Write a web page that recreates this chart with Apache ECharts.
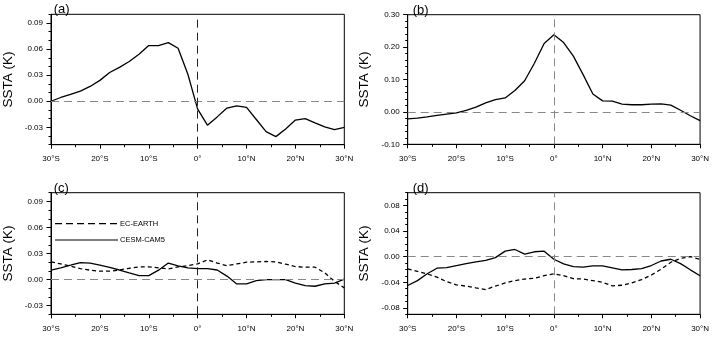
<!DOCTYPE html>
<html><head><meta charset="utf-8">
<script src="https://cdn.jsdelivr.net/npm/echarts@6/dist/echarts.min.js"></script>
<style>html,body{margin:0;padding:0;background:#fff}#c{width:712px;height:341px}</style>
</head><body><div id="c"></div>
<script>
const lat = [-30,-28,-26,-24,-22,-20,-18,-16,-14,-12,-10,-8,-6,-4,-2,0,2,4,6,8,10,12,14,16,18,20,22,24,26,28,30];
const panelA = [0.000,0.0043,0.0078,0.0116,0.017,0.024,0.033,0.039,0.0457,0.054,0.064,0.064,0.0674,0.061,0.031,-0.009,-0.0275,-0.018,-0.0078,-0.0054,-0.007,-0.021,-0.035,-0.0407,-0.032,-0.0217,-0.020,-0.0248,-0.0295,-0.0326,-0.030];
const panelB = [-0.0216,-0.019,-0.0155,-0.011,-0.007,-0.003,0.005,0.015,0.028,0.038,0.043,0.066,0.096,0.150,0.211,0.238,0.214,0.172,0.115,0.055,0.034,0.033,0.024,0.022,0.022,0.024,0.025,0.021,0.005,-0.012,-0.027];
const cEC = [0.0204,0.018,0.0154,0.0127,0.0108,0.0096,0.0096,0.011,0.013,0.0146,0.0146,0.0135,0.0123,0.0146,0.016,0.018,0.0227,0.019,0.016,0.018,0.020,0.0204,0.0208,0.0204,0.0177,0.015,0.0142,0.0142,0.0077,-0.002,-0.0096];
const cCESM = [0.0108,0.0135,0.0165,0.0196,0.019,0.0165,0.014,0.011,0.0077,0.0046,0.0046,0.0108,0.019,0.0158,0.0135,0.0127,0.0127,0.011,0.004,-0.005,-0.005,-0.0012,0,0,0,-0.004,-0.007,-0.0077,-0.005,-0.004,0.0004];
const dEC = [-0.019,-0.023,-0.027,-0.032,-0.039,-0.044,-0.046,-0.0487,-0.0513,-0.046,-0.041,-0.0374,-0.0349,-0.0338,-0.0297,-0.0267,-0.0297,-0.0344,-0.0349,-0.0374,-0.040,-0.0456,-0.0446,-0.041,-0.0359,-0.0287,-0.0195,-0.0087,-0.0026,0.000,-0.004];
const dCESM = [-0.045,-0.0374,-0.0267,-0.018,-0.017,-0.0138,-0.0108,-0.0082,-0.0056,-0.0015,0.0087,0.0113,0.0041,0.0077,0.0087,-0.004,-0.0113,-0.0154,-0.0164,-0.0144,-0.0144,-0.0174,-0.0205,-0.020,-0.0185,-0.0138,-0.0067,-0.004,-0.0108,-0.0205,-0.0297];
const latLabels = {'-30':'30°S','-20':'20°S','-10':'10°S','0':'0°','10':'10°N','20':'20°N','30':'30°N'};
const yTicksAC = [-0.03,0,0.03,0.06,0.09];
const yTicksB = [-0.1,0,0.1,0.2,0.3];
const yTicksD = [-0.08,-0.04,0,0.04,0.08];
const legendNames = ['EC-EARTH','CESM-CAM5'];

const FONT = 'Liberation Sans, Arial, sans-serif';
const panels = [
  {grid:{left:48.7,top:14.3,width:295.6,height:130.4}, min:-0.05, max:0.10, major:yTicksAC, minor:0.01, label:'(a)', vColor:'#222', series:[{d:panelA, dash:'solid'}]},
  {grid:{left:407.7,top:14.7,width:296,height:129.6}, min:-0.10, max:0.30, major:yTicksB, minor:0.02, label:'(b)', vColor:'#888', series:[{d:panelB, dash:'solid'}]},
  {grid:{left:48.7,top:192.7,width:295.6,height:121.6}, min:-0.04, max:0.10, major:yTicksAC, minor:0.01, label:'(c)', vColor:'#222', series:[{d:cEC, dash:[4,3], name:legendNames[0]},{d:cCESM, dash:'solid', name:legendNames[1]}]},
  {grid:{left:407.7,top:192.7,width:296,height:121.6}, min:-0.09, max:0.10, major:yTicksD, minor:0.01, label:'(d)', vColor:'#888', series:[{d:dEC, dash:[4,3], name:legendNames[0]},{d:dCESM, dash:'solid', name:legendNames[1]}]}
];

const option = {animation:false, backgroundColor:'#fff', grid:[], xAxis:[], yAxis:[], series:[], title:[], graphic:[]};
panels.forEach((p,i)=>{
  option.grid.push(Object.assign({show:true, borderColor:'#000', borderWidth:1, containLabel:false}, p.grid));
  option.title.push({text:p.label, left:p.grid.left, top:p.grid.top-16, textStyle:{fontSize:13, fontWeight:'normal', color:'#000', fontFamily:FONT}});
  option.xAxis.push({type:'value', gridIndex:i, min:-30, max:30, interval:10,
    axisLine:{show:true, onZero:false, lineStyle:{color:'#000', width:1}},
    axisTick:{show:true, length:4, lineStyle:{color:'#000'}},
    minorTick:{show:true, splitNumber:2, length:2.5, lineStyle:{color:'#000'}},
    splitLine:{show:false},
    axisLabel:{fontSize:8, color:'#000', fontFamily:FONT, margin:10, formatter:v=>latLabels[String(Math.round(v))]||''}});
  const yi = option.yAxis.length;
  option.yAxis.push({type:'value', gridIndex:i, min:p.min, max:p.max, position:'left', offset:0,
    name:'SSTA (K)', nameLocation:'middle', nameGap:36, nameTextStyle:{fontSize:13.5, color:'#000', fontFamily:FONT},
    axisLine:{show:true, onZero:false, lineStyle:{color:'#000', width:1}},
    axisTick:{show:true, length:4.5, customValues:p.major, lineStyle:{color:'#000'}},
    splitLine:{show:false},
    axisLabel:{fontSize:8, color:'#000', fontFamily:FONT, margin:8, customValues:p.major, formatter:v=>v.toFixed(2)}});
  option.yAxis.push({type:'value', gridIndex:i, min:p.min, max:p.max, interval:p.minor, position:'left', offset:0,
    axisLine:{show:false, onZero:false}, axisTick:{show:true, length:2.5, lineStyle:{color:'#000'}},
    splitLine:{show:false}, axisLabel:{show:false}});
  p.series.forEach((s,k)=>{
    const ser = {type:'line', xAxisIndex:i, yAxisIndex:yi, symbol:'none', smooth:false,
      data:lat.map((x,j)=>[x, s.d[j]]),
      lineStyle:{color:'#000', width:1.3, type:s.dash}, z:3};
    if(k===0){
      ser.markLine = {silent:true, symbol:'none', label:{show:false}, animation:false,
        data:[{yAxis:0, lineStyle:{color:'#888', width:1, type:[8,5]}},
              {xAxis:0, lineStyle:{color:p.vColor, width:1, type:[8,5]}}]};
    }
    option.series.push(ser);
  });
});
option.graphic.push(
  {type:'line', shape:{x1:55, y1:223.7, x2:118, y2:223.7}, style:{stroke:'#000', lineWidth:1.2, lineDash:[7,4]}},
  {type:'text', left:120, top:219.5, style:{text:legendNames[0], fontSize:7.5, fill:'#000', fontFamily:FONT}},
  {type:'line', shape:{x1:55, y1:240, x2:118, y2:240}, style:{stroke:'#000', lineWidth:1.2}},
  {type:'text', left:120, top:235.8, style:{text:legendNames[1], fontSize:7.5, fill:'#000', fontFamily:FONT}}
);
const chart = echarts.init(document.getElementById('c'), null, {renderer:'canvas'});
chart.setOption(option);
</script></body></html>
